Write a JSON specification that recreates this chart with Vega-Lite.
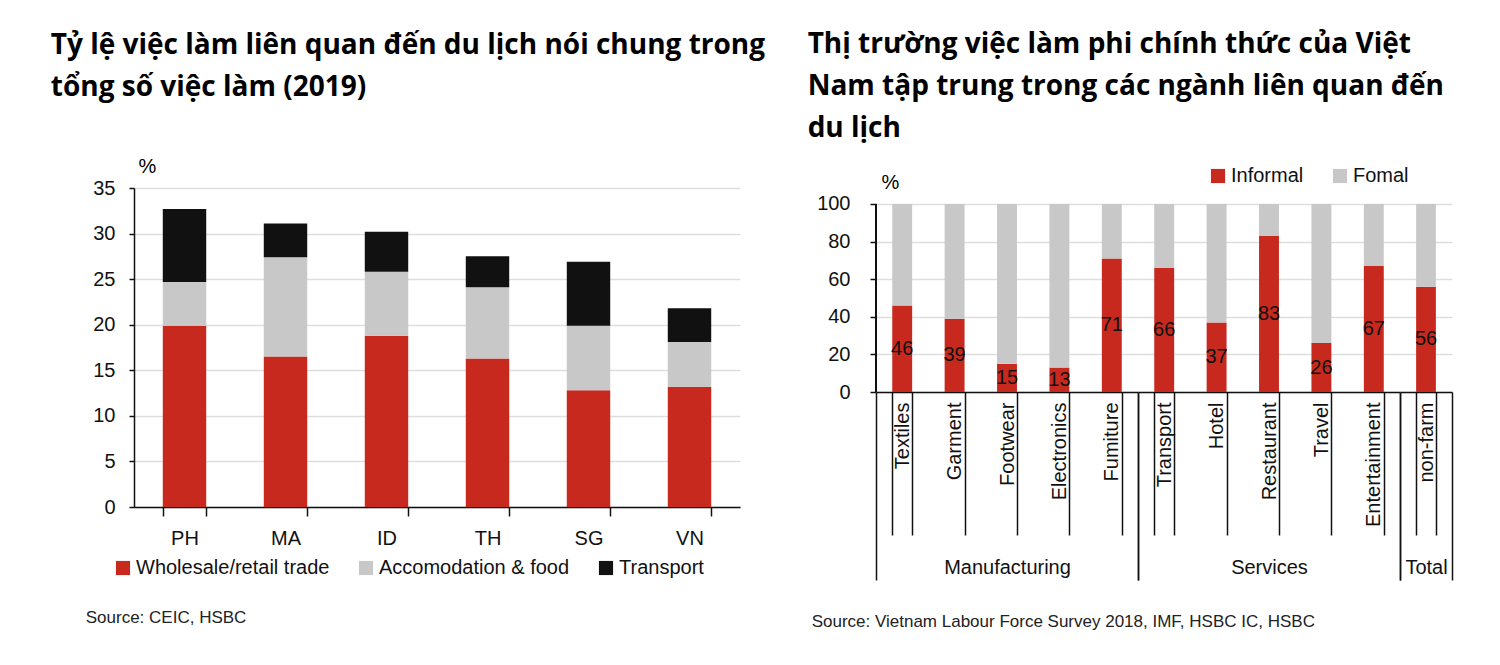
{
  "$schema": "https://vega.github.io/schema/vega-lite/v6.json",
  "background": "white",
  "padding": {"left": 50, "top": 31, "right": 5, "bottom": 5},
  "datasets": {
    "left": [
      {"country": "PH", "sector": "Wholesale/retail trade", "value": 19.9},
      {"country": "PH", "sector": "Accomodation & food", "value": 4.8},
      {"country": "PH", "sector": "Transport", "value": 8.0},
      {"country": "MA", "sector": "Wholesale/retail trade", "value": 16.5},
      {"country": "MA", "sector": "Accomodation & food", "value": 10.9},
      {"country": "MA", "sector": "Transport", "value": 3.7},
      {"country": "ID", "sector": "Wholesale/retail trade", "value": 18.8},
      {"country": "ID", "sector": "Accomodation & food", "value": 7.0},
      {"country": "ID", "sector": "Transport", "value": 4.4},
      {"country": "TH", "sector": "Wholesale/retail trade", "value": 16.3},
      {"country": "TH", "sector": "Accomodation & food", "value": 7.8},
      {"country": "TH", "sector": "Transport", "value": 3.4},
      {"country": "SG", "sector": "Wholesale/retail trade", "value": 12.8},
      {"country": "SG", "sector": "Accomodation & food", "value": 7.1},
      {"country": "SG", "sector": "Transport", "value": 7.0},
      {"country": "VN", "sector": "Wholesale/retail trade", "value": 13.2},
      {"country": "VN", "sector": "Accomodation & food", "value": 4.9},
      {"country": "VN", "sector": "Transport", "value": 3.7}
    ],
    "sectorOrder": [
      {"sector": "Wholesale/retail trade", "rank": 1},
      {"sector": "Accomodation & food", "rank": 2},
      {"sector": "Transport", "rank": 3}
    ],
    "right": [
      {"cat": "Textiles", "group": "Manufacturing", "type": "Informal", "value": 46},
      {"cat": "Textiles", "group": "Manufacturing", "type": "Fomal", "value": 54},
      {"cat": "Garment", "group": "Manufacturing", "type": "Informal", "value": 39},
      {"cat": "Garment", "group": "Manufacturing", "type": "Fomal", "value": 61},
      {"cat": "Footwear", "group": "Manufacturing", "type": "Informal", "value": 15},
      {"cat": "Footwear", "group": "Manufacturing", "type": "Fomal", "value": 85},
      {"cat": "Electronics", "group": "Manufacturing", "type": "Informal", "value": 13},
      {"cat": "Electronics", "group": "Manufacturing", "type": "Fomal", "value": 87},
      {"cat": "Fumiture", "group": "Manufacturing", "type": "Informal", "value": 71},
      {"cat": "Fumiture", "group": "Manufacturing", "type": "Fomal", "value": 29},
      {"cat": "Transport", "group": "Services", "type": "Informal", "value": 66},
      {"cat": "Transport", "group": "Services", "type": "Fomal", "value": 34},
      {"cat": "Hotel", "group": "Services", "type": "Informal", "value": 37},
      {"cat": "Hotel", "group": "Services", "type": "Fomal", "value": 63},
      {"cat": "Restaurant", "group": "Services", "type": "Informal", "value": 83},
      {"cat": "Restaurant", "group": "Services", "type": "Fomal", "value": 17},
      {"cat": "Travel", "group": "Services", "type": "Informal", "value": 26},
      {"cat": "Travel", "group": "Services", "type": "Fomal", "value": 74},
      {"cat": "Entertainment", "group": "Services", "type": "Informal", "value": 67},
      {"cat": "Entertainment", "group": "Services", "type": "Fomal", "value": 33},
      {"cat": "non-farm", "group": "Total", "type": "Informal", "value": 56},
      {"cat": "non-farm", "group": "Total", "type": "Fomal", "value": 44}
    ]
  },
  "spacing": 41,
  "resolve": {"scale": {"color": "independent"}},
  "hconcat": [
    {
      "title": {
        "text": ["Tỷ lệ việc làm liên quan đến du lịch nói chung trong", "tổng số việc làm (2019)"],
        "anchor": "start", "font": "Open Sans", "fontSize": 28, "fontWeight": "bold",
        "lineHeight": 42, "offset": 54, "dx": -35, "color": "#000000"
      },
      "resolve": {"scale": {"color": "independent"}},
      "vconcat": [
        {
          "width": 606,
          "height": 319,
          "data": {"name": "left"},
          "transform": [
            {"lookup": "sector", "from": {"data": {"name": "sectorOrder"}, "key": "sector", "fields": ["rank"]}}
          ],
          "title": {
            "text": "Source: CEIC, HSBC", "orient": "bottom", "anchor": "start",
            "font": "Liberation Sans", "fontSize": 17, "fontWeight": "normal",
            "color": "#222222", "offset": 32, "dx": -7
          },
          "mark": {"type": "bar"},
          "encoding": {
            "x": {
              "field": "country", "type": "nominal",
              "sort": ["PH", "MA", "ID", "TH", "SG", "VN"],
              "scale": {"paddingInner": 0.57, "paddingOuter": 0.285},
              "axis": {
                "title": null, "labelAngle": 0, "tickBand": "extent", "tickSize": 9,
                "labelPadding": 12, "grid": false
              }
            },
            "y": {
              "field": "value", "type": "quantitative", "stack": "zero",
              "scale": {"domain": [0, 35]},
              "axis": {
                "values": [0, 5, 10, 15, 20, 25, 30, 35],
                "title": "%", "titleAngle": 0, "titleAlign": "center", "titleBaseline": "middle",
                "titleX": 13, "titleY": -22, "titleFontWeight": "normal", "titleFontSize": 20,
                "titleFont": "Liberation Sans",
                "tickSize": 5, "labelPadding": 14
              }
            },
            "color": {
              "field": "sector", "type": "nominal",
              "sort": ["Wholesale/retail trade", "Accomodation & food", "Transport"],
              "scale": {
                "domain": ["Wholesale/retail trade", "Accomodation & food", "Transport"],
                "range": ["#c8291f", "#c8c8c8", "#111111"]
              },
              "legend": {
                "orient": "none", "legendX": -21, "legendY": 370, "direction": "horizontal",
                "title": null, "symbolType": "square", "symbolSize": 200, "symbolStrokeWidth": 0,
                "labelFontSize": 20, "labelFont": "Liberation Sans", "labelColor": "#111111",
                "columnPadding": 26, "labelOffset": 3, "labelLimit": 400
              }
            },
            "order": {"field": "rank", "type": "quantitative", "sort": "ascending"}
          }
        }
      ]
    },
    {
      "title": {
        "text": ["Thị trường việc làm phi chính thức của Việt", "Nam tập trung trong các ngành liên quan đến", "du lịch"],
        "anchor": "start", "font": "Open Sans", "fontSize": 28, "fontWeight": "bold",
        "lineHeight": 42, "offset": 13, "dx": -4, "color": "#000000"
      },
      "resolve": {"scale": {"color": "independent"}},
      "vconcat": [
        {
          "title": {
            "text": "Source: Vietnam Labour Force Survey 2018, IMF, HSBC IC, HSBC", "orient": "bottom", "anchor": "start",
            "font": "Liberation Sans", "fontSize": 17, "fontWeight": "normal",
            "color": "#222222", "offset": 33, "dx": -5
          },
          "spacing": 0,
          "bounds": "flush",
          "resolve": {"scale": {"color": "independent"}},
          "hconcat": [
            {
              "width": 262, "height": 204,
              "data": {"name": "right"},
              "transform": [{"filter": "datum.group === 'Manufacturing'"}],
              "resolve": {"scale": {"x": "independent", "y": "independent"}},
              "layer": [
                {
                  "mark": {"type": "bar"},
                  "encoding": {
                    "x": {
                      "field": "cat", "type": "nominal",
                      "sort": ["Textiles", "Garment", "Footwear", "Electronics", "Fumiture"],
                      "scale": {"paddingInner": 0.62, "paddingOuter": 0.31},
                      "axis": {"title": null, "labelAngle": -90, "tickBand": "extent", "tickSize": 143, "labelPadding": -133, "grid": false, "domain": true}
                    },
                    "y": {
                      "field": "value", "type": "quantitative", "stack": "zero",
                      "scale": {"domain": [0, 108.51], "nice": false},
                      "axis": {
                        "values": [0, 20, 40, 60, 80, 100],
                        "title": "%", "titleAngle": 0, "titleAlign": "center", "titleBaseline": "middle",
                        "titleX": 14, "titleY": -6, "titleFontWeight": "normal", "titleFontSize": 20,
                        "titleFont": "Liberation Sans", "domain": false,
                        "tickSize": 6, "labelPadding": 20
                      }
                    },
                    "color": {
                      "field": "type", "type": "nominal",
                      "scale": {"domain": ["Informal", "Fomal"], "range": ["#c8291f", "#c8c8c8"]},
                      "legend": {
                        "orient": "none", "legendX": 322, "legendY": -32, "padding": 10, "direction": "horizontal",
                        "title": null, "symbolType": "square", "symbolSize": 200, "symbolStrokeWidth": 0,
                        "labelFontSize": 20, "labelFont": "Liberation Sans", "labelColor": "#111111",
                        "columnPadding": 26, "labelOffset": 3
                      }
                    },
                    "order": {"field": "type", "sort": "descending"}
                  }
                },
                {
                  "transform": [{"filter": "datum.type === 'Informal'"}],
                  "mark": {"type": "text", "fontSize": 20, "font": "Liberation Sans", "color": "#111111", "baseline": "middle"},
                  "encoding": {
                    "x": {
                      "field": "cat", "type": "nominal",
                      "sort": ["Textiles", "Garment", "Footwear", "Electronics", "Fumiture"],
                      "scale": {"paddingInner": 0.62, "paddingOuter": 0.31},
                      "axis": null
                    },
                    "y": {"field": "value", "type": "quantitative", "scale": {"domain": [0, 217.02], "nice": false}, "axis": null},
                    "text": {"field": "value", "type": "quantitative"}
                  }
                },
                {
                  "mark": {"type": "rule", "stroke": "#111111", "strokeWidth": 1.5},
                  "encoding": {
                    "x": {
                      "field": "group", "type": "nominal", "bandPosition": 0,
                      "scale": {"paddingInner": 0, "paddingOuter": 0},
                      "axis": {"orient": "bottom", "title": null, "labelAngle": 0, "tickBand": "extent", "tickSize": 188, "labelPadding": -23, "domain": false, "grid": false}
                    },
                    "y": {"datum": 0, "type": "quantitative", "scale": {"domain": [0, 108.51], "nice": false}, "axis": null},
                    "y2": {"datum": 100}
                  }
                }
              ]
            },
            {
              "width": 262, "height": 204,
              "data": {"name": "right"},
              "transform": [{"filter": "datum.group === 'Services'"}],
              "resolve": {"scale": {"x": "independent", "y": "independent"}},
              "layer": [
                {
                  "mark": {"type": "bar"},
                  "encoding": {
                    "x": {
                      "field": "cat", "type": "nominal",
                      "sort": ["Transport", "Hotel", "Restaurant", "Travel", "Entertainment"],
                      "scale": {"paddingInner": 0.62, "paddingOuter": 0.31},
                      "axis": {"title": null, "labelAngle": -90, "tickBand": "extent", "tickSize": 143, "labelPadding": -133, "grid": false, "domain": true}
                    },
                    "y": {
                      "field": "value", "type": "quantitative", "stack": "zero",
                      "scale": {"domain": [0, 108.51], "nice": false},
                      "axis": {"values": [0, 20, 40, 60, 80, 100], "title": null, "labels": false, "ticks": false, "domain": false, "minExtent": 0, "maxExtent": 0, "labelPadding": 0, "tickSize": 0}
                    },
                    "color": {
                      "field": "type", "type": "nominal",
                      "scale": {"domain": ["Informal", "Fomal"], "range": ["#c8291f", "#c8c8c8"]},
                      "legend": null
                    },
                    "order": {"field": "type", "sort": "descending"}
                  }
                },
                {
                  "transform": [{"filter": "datum.type === 'Informal'"}],
                  "mark": {"type": "text", "fontSize": 20, "font": "Liberation Sans", "color": "#111111", "baseline": "middle"},
                  "encoding": {
                    "x": {
                      "field": "cat", "type": "nominal",
                      "sort": ["Transport", "Hotel", "Restaurant", "Travel", "Entertainment"],
                      "scale": {"paddingInner": 0.62, "paddingOuter": 0.31},
                      "axis": null
                    },
                    "y": {"field": "value", "type": "quantitative", "scale": {"domain": [0, 217.02], "nice": false}, "axis": null},
                    "text": {"field": "value", "type": "quantitative"}
                  }
                },
                {
                  "mark": {"type": "rule", "strokeOpacity": 0},
                  "encoding": {
                    "x": {
                      "field": "group", "type": "nominal",
                      "scale": {"paddingInner": 0, "paddingOuter": 0},
                      "axis": {"orient": "bottom", "title": null, "labelAngle": 0, "tickBand": "extent", "tickSize": 188, "labelPadding": -23, "domain": false, "grid": false}
                    }
                  }
                }
              ]
            },
            {
              "width": 52, "height": 204,
              "data": {"name": "right"},
              "transform": [{"filter": "datum.group === 'Total'"}],
              "resolve": {"scale": {"x": "independent", "y": "independent"}},
              "layer": [
                {
                  "mark": {"type": "bar"},
                  "encoding": {
                    "x": {
                      "field": "cat", "type": "nominal",
                      "scale": {"paddingInner": 0.62, "paddingOuter": 0.31},
                      "axis": {"title": null, "labelAngle": -90, "tickBand": "extent", "tickSize": 143, "labelPadding": -133, "grid": false, "domain": true}
                    },
                    "y": {
                      "field": "value", "type": "quantitative", "stack": "zero",
                      "scale": {"domain": [0, 108.51], "nice": false},
                      "axis": {"values": [0, 20, 40, 60, 80, 100], "title": null, "labels": false, "ticks": false, "domain": false, "minExtent": 0, "maxExtent": 0, "labelPadding": 0, "tickSize": 0}
                    },
                    "color": {
                      "field": "type", "type": "nominal",
                      "scale": {"domain": ["Informal", "Fomal"], "range": ["#c8291f", "#c8c8c8"]},
                      "legend": null
                    },
                    "order": {"field": "type", "sort": "descending"}
                  }
                },
                {
                  "transform": [{"filter": "datum.type === 'Informal'"}],
                  "mark": {"type": "text", "fontSize": 20, "font": "Liberation Sans", "color": "#111111", "baseline": "middle"},
                  "encoding": {
                    "x": {
                      "field": "cat", "type": "nominal",
                      "scale": {"paddingInner": 0.62, "paddingOuter": 0.31},
                      "axis": null
                    },
                    "y": {"field": "value", "type": "quantitative", "scale": {"domain": [0, 217.02], "nice": false}, "axis": null},
                    "text": {"field": "value", "type": "quantitative"}
                  }
                },
                {
                  "mark": {"type": "rule", "strokeOpacity": 0},
                  "encoding": {
                    "x": {
                      "field": "group", "type": "nominal",
                      "scale": {"paddingInner": 0, "paddingOuter": 0},
                      "axis": {"orient": "bottom", "title": null, "labelAngle": 0, "tickBand": "extent", "tickSize": 188, "labelPadding": -23, "domain": false, "grid": false}
                    }
                  }
                }
              ]
            }
          ]
        }
      ]
    }
  ],
  "config": {
    "view": {"stroke": null},
    "font": "Liberation Sans",
    "axis": {
      "labelFont": "Liberation Sans", "labelFontSize": 20, "labelColor": "#111111",
      "domainColor": "#111111", "domainWidth": 1.5, "tickColor": "#111111", "tickWidth": 1.5,
      "gridColor": "#dedede", "gridWidth": 1.5
    },
    "axisX": {"labelLimit": 200}
  }
}
